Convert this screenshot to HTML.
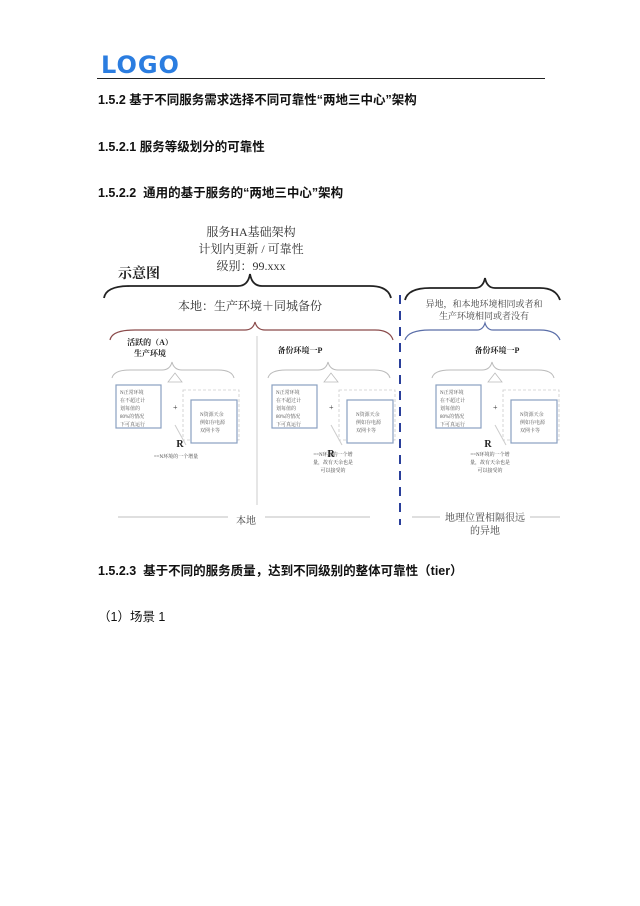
<!DOCTYPE html>
<html><head><meta charset="utf-8"><style>
body{margin:0;background:#fff;width:640px;height:906px;position:relative;font-family:"Liberation Sans","Noto Sans CJK SC",sans-serif;}
.h{position:absolute;left:98px;font-size:12.5px;font-weight:bold;color:#111;white-space:nowrap}
.logo{position:absolute;left:101px;top:51px;font-size:24px;font-weight:900;color:#2b7de0;letter-spacing:1px;font-family:"DejaVu Sans","Liberation Sans",sans-serif}
svg{position:absolute;left:0;top:0}
svg text{font-family:"Liberation Serif","Noto Serif CJK SC",serif}
</style></head><body>
<div class="logo">LOGO</div>
<div style="position:absolute;left:97px;top:78px;width:448px;height:1px;background:#222"></div>
<div class="h" style="top:89px">1.5.2 基于不同服务需求选择不同可靠性“两地三中心”架构</div>
<div class="h" style="top:136px">1.5.2.1 服务等级划分的可靠性</div>
<div class="h" style="top:182px">1.5.2.2&nbsp; 通用的基于服务的“两地三中心”架构</div>
<div class="h" style="top:560px">1.5.2.3&nbsp; 基于不同的服务质量，达到不同级别的整体可靠性（tier）</div>
<div class="h" style="top:606px;font-weight:normal">（1）场景 1</div>
<svg width="640" height="906" viewBox="0 0 640 906">
<g font-size="12" fill="#333" text-anchor="middle">
<text x="251" y="236">服务HA基础架构</text>
<text x="251" y="253">计划内更新 / 可靠性</text>
<text x="251" y="270">级别：99.xxx</text>
</g>
<text x="118" y="278" font-size="14" font-weight="bold" fill="#222" font-family="Liberation Sans,Noto Sans CJK SC,sans-serif">示意图</text>
<g fill="none" stroke="#222" stroke-width="1.8">
<path d="M104 298 Q106 286 130 286 L238 286 Q248 286 250 274 Q252 286 262 286 L370 286 Q388 286 391 298"/>
<path d="M405 300 Q408 288 430 288 L475 288 Q483 288 485 278 Q487 288 495 288 L540 288 Q556 288 560 300"/>
</g>
<text x="250" y="310" font-size="12" fill="#333" text-anchor="middle">本地：生产环境＋同城备份</text>
<g font-size="9" fill="#444" text-anchor="middle"><text x="484" y="307">异地，和本地环境相同或者和</text><text x="484" y="319">生产环境相同或者没有</text></g>
<path d="M110 340 Q112 330 135 330 L245 330 Q253 330 255 322 Q257 330 265 330 L375 330 Q390 330 393 340" fill="none" stroke="#8a4a4a" stroke-width="1.2"/>
<path d="M405 340 Q408 330 430 330 L477 330 Q483 330 485 323 Q487 330 493 330 L540 330 Q556 330 560 340" fill="none" stroke="#5a6ea8" stroke-width="1.2"/>
<line x1="400" y1="295" x2="400" y2="525" stroke="#2a3f9a" stroke-width="2" stroke-dasharray="9,7"/>
<line x1="257" y1="336" x2="257" y2="505" stroke="#ccc" stroke-width="1"/>
<g font-size="8" font-weight="bold" fill="#222" text-anchor="middle" font-family="Liberation Sans,Noto Sans CJK SC,sans-serif">
<text x="150" y="345">活跃的（A）</text><text x="150" y="356">生产环境</text>
<text x="300" y="353">备份环境一P</text><text x="497" y="353">备份环境一P</text>
</g>
<g id="c">
<path d="M112 378 Q114 370 130 370 L162 370 Q170 370 172 362 Q174 370 182 370 L218 370 Q232 370 234 378" fill="none" stroke="#bbb" stroke-width="1"/>
<polygon points="168,382 175,373 182,382" fill="none" stroke="#bbb" stroke-width=".8"/>
<rect x="116" y="385" width="45" height="43" fill="#fff" stroke="#8aa0c0" stroke-width="1.2"/>
<rect x="183" y="390" width="56" height="50" fill="none" stroke="#ccc" stroke-dasharray="3,2" stroke-width=".8"/>
<rect x="191" y="400" width="46" height="43" fill="#fff" stroke="#8aa0c0" stroke-width="1.2"/>
<text x="173" y="410" font-size="8" fill="#333">+</text>
<line x1="175" y1="425" x2="186" y2="445" stroke="#ccc"/>
<g font-size="5" fill="#555"><text x="120" y="394">N正常环境</text><text x="120" y="402">在不超过计</text><text x="120" y="410">划每值的</text><text x="120" y="418">80%的情况</text><text x="120" y="426">下可真运行</text>
<text x="200" y="416">N资源天余</text><text x="200" y="424">例如存电源</text><text x="200" y="432">双网卡等</text></g>
</g>
<use href="#c" transform="translate(156,0)"/>
<use href="#c" transform="translate(320,0)"/>
<g font-size="10" font-weight="bold" fill="#222" font-family="Liberation Sans,sans-serif" text-anchor="middle">
<text x="180" y="447">R</text><text x="331" y="457">R</text><text x="488" y="447">R</text></g>
<g font-size="5" fill="#444" text-anchor="middle">
<text x="176" y="458">==N环境的一个增量</text>
<text x="333" y="456">==N环境的一个增</text><text x="333" y="464">量，故有天余也是</text><text x="333" y="472">可以接受的</text>
<text x="490" y="456">==N环境的一个增</text><text x="490" y="464">量，故有天余也是</text><text x="490" y="472">可以接受的</text>
</g>
<g stroke="#aaa" stroke-width=".8"><line x1="118" y1="517" x2="228" y2="517"/><line x1="265" y1="517" x2="370" y2="517"/>
<line x1="412" y1="517" x2="440" y2="517"/><line x1="530" y1="517" x2="560" y2="517"/></g>
<g font-size="10" fill="#444" text-anchor="middle"><text x="246" y="524">本地</text><text x="485" y="521">地理位置相隔很远</text><text x="485" y="534">的异地</text></g>
</svg>
</body></html>
